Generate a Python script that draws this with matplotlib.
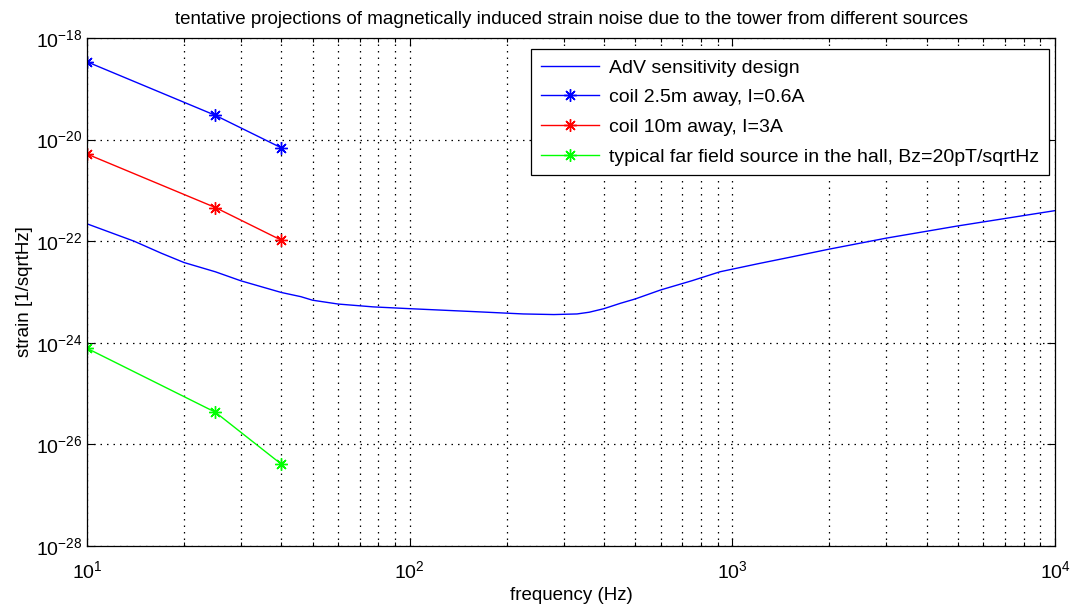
import matplotlib
matplotlib.use("Agg")
import matplotlib.pyplot as plt
from matplotlib.ticker import LogLocator, FixedLocator, NullFormatter, NullLocator

plt.rcParams["font.family"] = ["Liberation Sans", "DejaVu Sans"]
plt.rcParams["mathtext.fontset"] = "custom"
plt.rcParams["mathtext.rm"] = "Liberation Sans"

# AdV sensitivity design curve
adv_freq = [10, 14, 17, 20, 25, 30, 40, 46, 50, 60, 77, 100, 160, 225, 280, 330, 360,
            400, 450, 500, 600, 750, 915, 1200, 1500, 2000, 3000, 5000, 7000, 10000]
adv_strain = [2.2e-22, 1.0e-22, 5.8e-23, 3.8e-23, 2.5e-23, 1.66e-23, 9.8e-24, 8.1e-24,
              6.9e-24, 5.8e-24, 5.1e-24, 4.7e-24, 4.1e-24, 3.7e-24, 3.6e-24, 3.7e-24,
              4.0e-24, 4.7e-24, 6.0e-24, 7.3e-24, 1.1e-23, 1.67e-23, 2.5e-23, 3.6e-23,
              4.8e-23, 7.0e-23, 1.15e-22, 2.0e-22, 2.8e-22, 4.0e-22]

# projections at 10, 25, 40 Hz
proj_freq = [10, 25, 40]
coil_near = [3.4e-19, 3.0e-20, 6.9e-21]
coil_far = [5.2e-21, 4.6e-22, 1.05e-22]
far_field = [7.8e-25, 4.3e-26, 4.1e-27]

labels = [
    "AdV sensitivity design",
    "coil 2.5m away, I=0.6A",
    "coil 10m away, I=3A",
    "typical far field source in the hall, Bz=20pT/sqrtHz",
]

fig = plt.figure(figsize=(10.7, 6.09), dpi=100)
ax = fig.add_axes([0.0813, 0.1034, 0.9047, 0.8342])

asterisk = (8, 2, 0)
ax.loglog(adv_freq, adv_strain, color=(0, 0, 1), lw=1.0, label=labels[0])
ax.loglog(proj_freq, coil_near, color=(0, 0, 1), lw=1.0, marker=asterisk, ms=9, mew=1.0, label=labels[1])
ax.loglog(proj_freq, coil_far, color=(1, 0, 0), lw=1.0, marker=asterisk, ms=9, mew=1.0, label=labels[2])
ax.loglog(proj_freq, far_field, color=(0, 1, 0), lw=1.0, marker=asterisk, ms=9, mew=1.0, label=labels[3])

ax.set_xlim(10, 1e4)
ax.set_ylim(1e-28, 1e-18)
ax.xaxis.set_major_locator(LogLocator(base=10, numticks=10))
ax.xaxis.set_minor_locator(LogLocator(base=10, subs=range(2, 10), numticks=10))
ax.xaxis.set_minor_formatter(NullFormatter())
ax.yaxis.set_major_locator(FixedLocator([1e-28, 1e-26, 1e-24, 1e-22, 1e-20, 1e-18]))
ax.yaxis.set_minor_locator(NullLocator())

dots = (0, (1.2, 4))
ax.grid(True, which="major", ls=dots, color="black", lw=0.9)
ax.grid(True, which="minor", axis="x", ls=dots, color="black", lw=0.9)
ax.tick_params(which="both", direction="in", top=True, right=True, labelsize=14, width=0.8)
ax.tick_params(which="major", length=6)
ax.tick_params(which="minor", length=3)
ax.tick_params(axis="x", pad=10)
for s in ax.spines.values():
    s.set_linewidth(0.9)

ax.set_title("tentative projections of magnetically induced strain noise due to the tower from different sources",
             fontsize=13.5, pad=10)
ax.set_xlabel("frequency (Hz)", fontsize=13.5)
ax.set_ylabel("strain [1/sqrtHz]", fontsize=13.5, labelpad=2)

leg = ax.legend(loc="upper right", bbox_to_anchor=(0.9938, 0.978), fontsize=14, fancybox=False,
                framealpha=1, edgecolor="black", borderpad=0.5, handlelength=3.0, handletextpad=0.5,
                labelspacing=0.62, borderaxespad=0)
leg.get_frame().set_linewidth(0.9)

fig.savefig("out.png", dpi=100)
